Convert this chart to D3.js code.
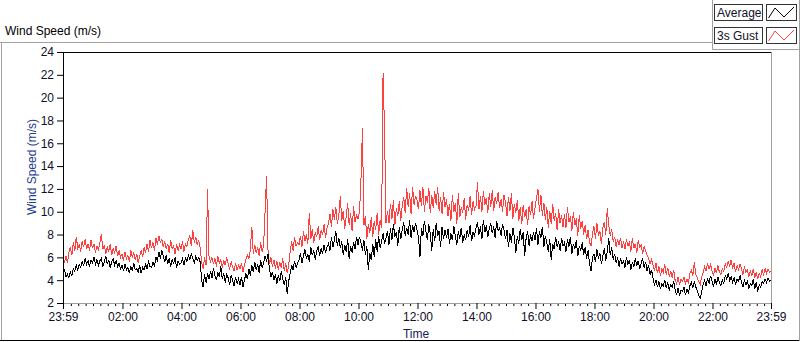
<!DOCTYPE html>
<html>
<head>
<meta charset="utf-8">
<script src="https://cdn.jsdelivr.net/npm/d3@7"></script>
<style>
  body { margin: 0; background: #fff; }
  svg { display: block; font-family: "Liberation Sans", Arial, sans-serif; font-size: 12px; }
</style>
</head>
<body>
<script>
// one value every 3 minutes, 23:59 -> 23:59 (one row per hour)
const stepMinutes = 3;

const avgSpeed = [
  4.6, 4.9, 4.3, 4.5, 4.2, 4.7, 4.4, 5.0, 4.8, 5.3, 4.9, 5.4, 5.1, 5.6, 5.3, 5.9, 5.4, 5.7, 5.2, 5.8,
  5.5, 6.0, 5.4, 5.8, 5.3, 5.7, 5.9, 5.2, 5.6, 6.1, 5.4, 5.8, 5.1, 5.6, 5.9, 5.3, 5.7, 5.2, 5.5, 5.0,
  5.3, 4.8, 5.4, 4.9, 5.1, 4.6, 5.2, 4.8, 5.5, 4.9, 5.0, 4.7, 5.3, 4.6, 5.1, 4.9, 5.4, 5.0, 5.6, 5.2,
  5.1, 5.6, 5.2, 6.0, 5.7, 6.5, 5.9, 6.6, 6.1, 5.6, 6.2, 5.4, 5.9, 5.2, 5.8, 5.5, 6.0, 5.1, 5.7, 5.4,
  5.5, 5.9, 5.3, 6.0, 5.6, 6.2, 5.8, 6.3, 5.9, 5.5, 6.1, 5.7, 6.0, 5.6, 4.0, 3.4, 4.5, 3.8, 4.6, 4.1,
  4.8, 4.2, 5.1, 4.4, 4.0, 4.7, 4.3, 5.2, 4.1, 4.6, 3.8, 4.5, 4.2, 3.6, 4.4, 4.0, 3.5, 4.3, 3.7, 4.1,
  3.6, 4.3, 3.4, 4.0, 4.6, 4.1, 5.0, 4.4, 5.3, 4.7, 5.6, 4.9, 5.4, 4.6, 5.8, 5.1, 5.5, 6.1, 5.7, 6.3,
  4.9, 4.3, 4.7, 4.0, 4.5, 3.7, 4.4, 3.9, 4.8, 4.1, 3.6, 4.3, 2.8, 3.9, 4.6, 5.3, 4.9, 5.7, 5.1, 5.5,
  5.8, 6.4, 5.5, 6.1, 6.7, 5.9, 6.3, 5.6, 6.9, 6.2, 6.6, 5.8, 6.5, 7.0, 6.1, 6.8, 6.3, 7.1, 6.4, 6.9,
  7.2, 6.6, 7.8, 6.9, 7.5, 8.3, 7.0, 7.7, 6.8, 7.4, 6.2, 7.1, 6.5, 7.6, 5.9, 7.0, 6.4, 7.3, 6.7, 7.8,
  7.1, 7.8, 7.3, 6.6, 7.5, 6.2, 7.0, 4.9, 6.4, 5.8, 7.2, 6.0, 7.6, 6.5, 7.9, 6.8, 7.4, 8.1, 7.2, 7.7,
  8.3, 7.1, 8.6, 7.5, 8.9, 7.8, 8.2, 7.0, 8.7, 7.6, 8.4, 9.1, 7.9, 8.6, 8.0, 9.3, 7.7, 8.8, 8.2, 9.0,
  8.4, 7.8, 6.0, 8.6, 7.9, 9.2, 8.3, 7.5, 8.9, 8.1, 6.6, 8.5, 7.4, 9.0, 7.9, 8.3, 6.9, 8.7, 7.6, 8.4,
  7.7, 8.5, 7.2, 8.1, 7.5, 8.7, 7.9, 7.1, 8.3, 7.6, 8.6, 7.3, 8.0, 7.5, 8.4, 7.8, 8.8, 7.4, 8.2, 7.9,
  8.6, 9.1, 8.0, 8.7, 7.6, 9.3, 8.2, 8.8, 7.8, 8.5, 9.0, 8.1, 8.7, 7.7, 9.2, 8.3, 8.6, 7.9, 8.9, 8.4,
  7.6, 8.4, 6.9, 8.1, 7.3, 8.6, 7.8, 6.4, 7.9, 7.2, 8.5, 7.5, 8.2, 6.1, 7.7, 8.3, 7.0, 8.0, 7.4, 8.2,
  7.5, 8.6, 7.1, 8.3, 7.7, 8.7, 6.9, 7.9, 7.3, 6.5, 7.6, 5.8, 7.2, 6.7, 7.8, 6.9, 7.4, 6.6, 7.7, 7.0,
  7.3, 6.5, 7.6, 6.9, 7.8, 6.3, 7.2, 6.7, 7.5, 6.1, 7.0, 6.6, 7.3, 6.2, 6.9, 5.9, 6.6, 5.4, 4.8, 6.0,
  6.3, 5.6, 6.7, 5.9, 6.4, 5.4, 6.1, 6.8, 5.7, 6.5, 7.7, 6.2, 6.9, 5.8, 6.3, 5.5, 6.0, 5.2, 5.9, 5.4,
  5.7, 5.1, 6.0, 5.4, 5.8, 4.9, 5.6, 5.2, 5.9, 5.3, 5.7, 5.0, 5.5, 5.9, 5.1, 5.6, 4.8, 5.3, 4.5, 4.9,
  4.2, 3.6, 4.0, 3.4, 3.9, 3.2, 3.7, 3.5, 4.0, 3.3, 3.8, 3.1, 3.6, 3.4, 3.9, 3.2, 2.7, 3.3, 2.6, 3.1,
  3.0, 3.4, 2.7, 3.2, 2.9, 3.5, 3.8, 3.3, 3.9, 3.4, 3.1, 2.7, 2.4, 3.0, 3.6, 4.0, 3.5, 4.2, 3.7, 4.4,
  3.9, 3.4, 4.1, 3.6, 4.3, 3.8, 3.5, 4.0, 3.7, 4.4, 4.1, 4.6, 4.0, 4.3, 3.8, 4.2, 3.6, 4.1, 3.9, 4.4,
  3.8, 3.4, 4.0, 3.6, 3.9, 3.3, 3.7, 3.5, 4.1, 3.2, 3.8, 3.0, 3.6, 3.4, 3.9, 3.7, 4.1, 3.8, 4.2, 3.9, 4.0
];

const gustSpeed = [
  5.9, 5.6, 6.1, 5.5, 6.4, 6.9, 6.2, 7.3, 6.6, 7.8, 6.8, 7.1, 6.5, 7.4, 6.9, 7.6, 6.7, 7.2, 6.6, 7.5,
  6.8, 7.2, 6.4, 7.0, 6.6, 7.3, 8.0, 6.7, 7.1, 6.3, 6.9, 6.5, 7.2, 6.2, 6.8, 6.4, 7.0, 6.1, 6.6, 6.0,
  6.3, 5.7, 6.5, 5.9, 6.2, 5.6, 6.6, 6.0, 6.4, 5.8, 6.3, 5.5, 6.1, 6.6, 6.0, 6.9, 6.4, 7.2, 6.5, 7.5,
  6.8, 7.3, 6.6, 7.7, 7.1, 7.9, 7.3, 7.6, 6.9, 7.4, 6.7, 7.2, 6.4, 7.5, 6.8, 7.0, 6.3, 7.2, 6.6, 7.1,
  6.7, 7.4, 6.5, 7.2, 6.9, 7.6, 7.9, 7.0, 8.4, 7.3, 7.8, 7.1, 7.5, 6.8, 5.6, 5.0, 6.0, 5.3, 12.0, 6.1,
  5.6, 6.0, 5.4, 5.9, 5.2, 6.1, 5.5, 5.8, 5.1, 5.7, 5.3, 6.0, 5.4, 5.0, 5.6, 5.2, 4.8, 5.5, 4.9, 5.3,
  5.0, 5.5, 4.7, 5.3, 5.8, 6.2, 5.9, 6.6, 8.7, 6.3, 7.1, 6.4, 6.9, 6.1, 7.3, 6.5, 7.0, 10.0, 13.1, 6.6,
  5.4, 6.0, 5.2, 5.8, 5.0, 5.7, 4.9, 5.6, 5.1, 5.9, 4.8, 5.5, 4.6, 5.3, 6.5, 7.4, 6.6, 7.8, 7.0, 7.3,
  7.1, 7.9, 6.9, 8.3, 7.4, 8.0, 7.2, 9.9, 7.6, 8.5, 7.3, 8.2, 7.8, 8.7, 7.5, 8.4, 8.0, 8.9, 7.7, 8.6,
  9.0, 9.8, 8.7, 10.2, 9.3, 10.4, 8.9, 9.7, 11.4, 9.2, 10.1, 8.5, 9.6, 10.8, 8.8, 9.9, 8.3, 10.5, 9.1, 9.7,
  9.4, 10.0, 12.7, 17.3, 8.8, 9.6, 7.6, 8.9, 8.1, 9.5, 7.8, 9.2, 8.4, 9.9, 8.0, 9.3, 8.6, 22.2, 17.1, 9.0,
  10.1, 9.0, 10.7, 9.4, 11.0, 8.8, 10.3, 9.6, 10.9, 9.2, 10.5, 11.3, 9.9, 12.1, 10.4, 11.6, 9.8, 12.2, 10.6, 11.4,
  11.0, 10.2, 11.9, 10.5, 12.2, 10.0, 11.4, 10.8, 12.1, 9.9, 11.5, 10.3, 11.8, 10.6, 12.2, 10.1, 11.3, 9.8, 11.7, 10.4,
  11.1, 9.6, 10.7, 9.2, 11.5, 10.0, 10.8, 8.9, 11.6, 9.5, 10.4, 9.9, 11.2, 9.3, 10.6, 10.1, 11.4, 9.7, 10.9, 10.2,
  10.5, 12.6, 10.2, 11.4, 10.0, 11.8, 10.6, 11.2, 9.9, 11.6, 10.4, 11.9, 10.1, 11.3, 10.7, 11.7, 10.3, 11.1, 10.0, 11.5,
  10.8, 9.6, 11.3, 10.1, 11.6, 9.4, 10.7, 9.9, 11.0, 9.2, 10.4, 8.9, 10.6, 9.5, 10.2, 8.8, 10.5, 9.7, 10.9, 9.4,
  10.3, 11.2, 12.0, 10.0, 11.5, 9.6, 10.8, 9.3, 10.4, 8.6, 10.1, 8.9, 10.7, 9.2, 9.9, 8.4, 10.2, 9.0, 9.7, 8.7,
  9.8, 8.6, 10.4, 9.1, 9.6, 8.3, 10.0, 8.8, 9.4, 7.9, 9.7, 8.5, 9.2, 8.0, 8.8, 7.6, 8.4, 7.3, 7.0, 8.1,
  8.7, 7.6, 9.0, 7.9, 8.3, 7.2, 8.6, 9.1, 8.0, 10.3, 8.8, 7.9, 8.5, 7.4, 7.8, 6.9, 7.6, 7.1, 7.7, 6.8,
  7.4, 6.7, 7.6, 7.0, 7.3, 6.5, 7.7, 6.8, 7.2, 6.4, 7.5, 6.9, 7.1, 6.3, 7.0, 6.6, 6.2, 5.9, 5.4, 5.8,
  5.3, 4.8, 5.5, 4.6, 5.2, 4.4, 5.0, 4.7, 5.4, 4.5, 5.1, 4.3, 4.8, 4.2, 4.9, 4.0, 3.7, 4.3, 3.6, 4.1,
  3.9, 4.3, 3.7, 4.1, 3.8, 4.6, 4.9, 4.4, 5.6, 4.5, 4.2, 3.9, 3.6, 4.3, 4.7, 5.2, 4.8, 5.5, 5.0, 5.4,
  4.8, 4.4, 5.1, 4.6, 5.3, 4.7, 4.5, 5.0, 4.8, 5.4, 5.1, 5.7, 5.2, 5.8, 5.0, 5.5, 4.7, 5.3, 4.9, 5.4,
  5.0, 4.5, 5.2, 4.7, 4.9, 4.3, 4.8, 4.4, 5.0, 4.2, 4.7, 4.1, 4.6, 4.3, 4.9, 4.5, 5.0, 4.6, 5.0, 4.7, 4.8
];

const yTicks = [2, 4, 6, 8, 10, 12, 14, 16, 18, 20, 22, 24];
// minutes after 23:59
const majorMinutes = [0, 121, 241, 361, 481, 601, 721, 841, 961, 1081, 1201, 1321, 1440];
const majorLabels = ["23:59", "02:00", "04:00", "06:00", "08:00", "10:00", "12:00",
                     "14:00", "16:00", "18:00", "20:00", "22:00", "23:59"];
const seriesNames = ["Average", "3s Gust"];
const seriesColors = ["#000000", "#ff4040"];

const width = 800, height = 342;
const svg = d3.select("body").append("svg")
  .attr("width", width)
  .attr("height", height);

const x = d3.scaleLinear().domain([0, 1440]).range([63, 771]);
const y = d3.scaleLinear().domain([2, 24]).range([303, 52]);

// outer frame
svg.append("path").attr("d", "M0,42.5H712").attr("stroke", "#a0a0a0").attr("fill", "none");
svg.append("path").attr("d", "M1.5,42V341").attr("stroke", "#a0a0a0").attr("fill", "none");
svg.append("path").attr("d", "M0,340.5H800").attr("stroke", "#000").attr("fill", "none");
svg.append("path").attr("d", "M712.5,0V49.5H800").attr("stroke", "#a0a0a0").attr("fill", "none");
svg.append("path").attr("d", "M799.5,0V341").attr("stroke", "#a0a0a0").attr("fill", "none");

svg.append("text")
  .attr("x", 5).attr("y", 35)
  .attr("fill", "#000")
  .text("Wind Speed (m/s)");

// plot border: dark top/left, light bottom/right
svg.append("path").attr("d", "M63,52.5H772").attr("stroke", "#000").attr("fill", "none");
svg.append("path").attr("d", "M771.5,52V304").attr("stroke", "#a0a0a0").attr("fill", "none");

// series (gust underneath, average on top)
const line = d3.line()
  .x((d, i) => x(i * stepMinutes))
  .y(d => y(d));

const series = [gustSpeed, avgSpeed];
const colors = [seriesColors[1], seriesColors[0]];
svg.selectAll("path.series")
  .data(series)
  .enter()
  .append("path")
  .attr("class", "series")
  .attr("d", d => line(d))
  .attr("fill", "none")
  .attr("stroke", (d, i) => colors[i])
  .attr("stroke-width", 1)
  .attr("shape-rendering", "crispEdges");

// y axis
const yAxis = svg.append("g")
  .attr("transform", "translate(63,0)")
  .call(d3.axisLeft(y).tickValues(yTicks).tickSize(6).tickSizeOuter(0).tickPadding(3));
yAxis.select(".domain").attr("stroke", "#000");
yAxis.selectAll("text")
  .attr("fill", "#10102a")
  .style("font-size", "12px")
  .style("font-family", "Liberation Sans, Arial, sans-serif");

// x axis: minor ticks every 15 min, major every 2 h
const minorMinutes = d3.range(16, 1440, 15).filter(m => !majorMinutes.includes(m));
svg.append("g")
  .attr("transform", "translate(0,303)")
  .call(d3.axisBottom(x).tickValues(minorMinutes).tickSize(3).tickSizeOuter(0).tickFormat(""))
  .call(g => g.select(".domain").remove());

const xAxis = svg.append("g")
  .attr("transform", "translate(0,303)")
  .call(d3.axisBottom(x).tickValues(majorMinutes).tickSize(6).tickSizeOuter(0).tickPadding(3)
    .tickFormat((d, i) => majorLabels[i]));
xAxis.select(".domain").attr("stroke", "#a0a0a0");
xAxis.selectAll("text")
  .attr("fill", "#10102a")
  .style("font-size", "12px")
  .style("font-family", "Liberation Sans, Arial, sans-serif");

// axis titles
svg.append("text")
  .attr("transform", "translate(36,167) rotate(-90)")
  .attr("text-anchor", "middle")
  .attr("fill", "#1f3b8f")
  .text("Wind Speed (m/s)");

svg.append("text")
  .attr("x", 416).attr("y", 338)
  .attr("text-anchor", "middle")
  .attr("fill", "#10205a")
  .text("Time");

// legend
const legend = svg.selectAll("g.legend")
  .data(seriesNames)
  .enter()
  .append("g")
  .attr("class", "legend")
  .attr("transform", (d, i) => `translate(0,${i * 23})`);

legend.append("rect")
  .attr("x", 714.5).attr("y", 4.5)
  .attr("width", 48).attr("height", 16)
  .attr("fill", "#fff").attr("stroke", "#333");
legend.append("text")
  .attr("x", 717).attr("y", 17)
  .attr("fill", "#10102a")
  .text(d => d);
legend.append("rect")
  .attr("x", 766.5).attr("y", 4.5)
  .attr("width", 30).attr("height", 16)
  .attr("fill", "#fff").attr("stroke", "#333");
legend.append("polyline")
  .attr("points", "768.5,18 775,8 784,17 794,7")
  .attr("fill", "none")
  .attr("stroke", (d, i) => seriesColors[i]);
</script>
</body>
</html>
